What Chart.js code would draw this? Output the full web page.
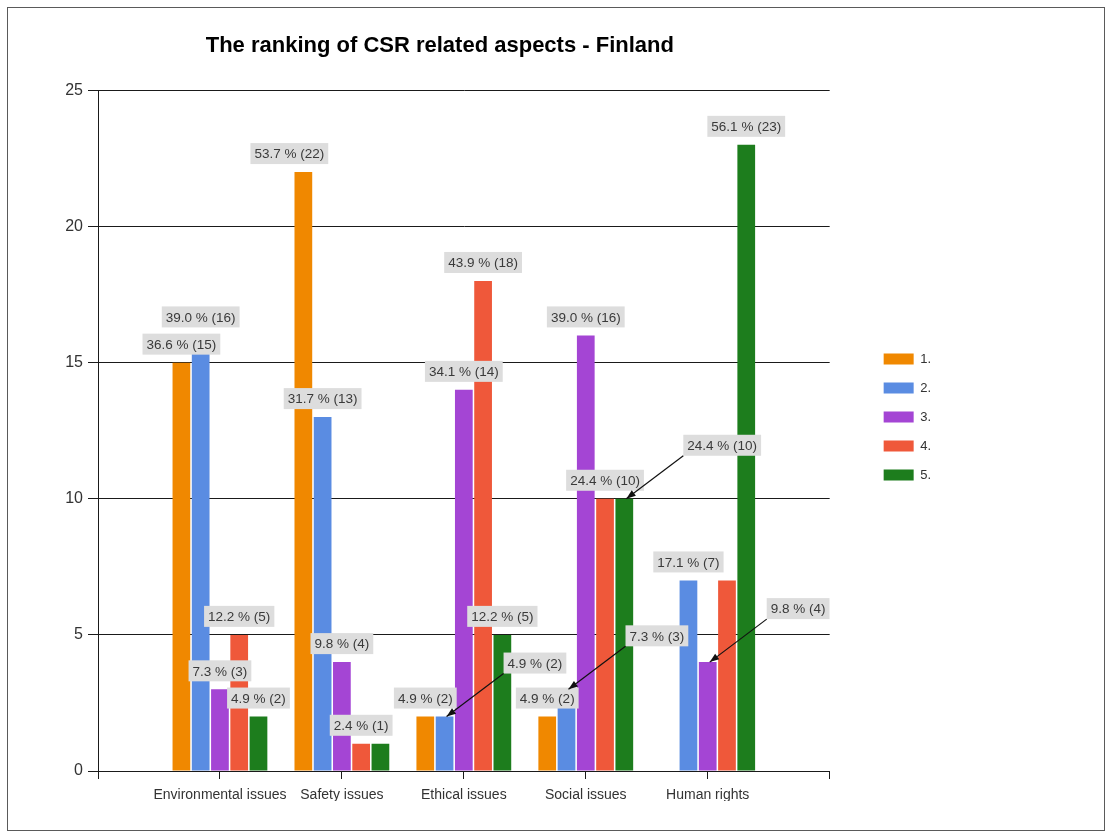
<!DOCTYPE html>
<html>
<head>
<meta charset="utf-8">
<script src="https://cdn.jsdelivr.net/npm/chart.js@4.4.1/dist/chart.umd.min.js"></script>
<style>
  html, body { margin: 0; padding: 0; background: #fff; }
  #wrap { position: relative; width: 1113px; height: 838px; }
  #frame { position: absolute; left: 7px; top: 7px; width: 1096px; height: 822px; border: 1px solid #5a5a5a; pointer-events: none; }
  canvas { position: absolute; left: 0; top: 0; }
</style>
</head>
<body>
<div id="wrap">
  <canvas id="csrChart" width="1113" height="838"></canvas>
  <div id="frame"></div>
</div>
<script>
// values (41 answers per rank)
const categories = ['Environmental issues', 'Safety issues', 'Ethical issues', 'Social issues', 'Human rights'];
const rankNames = ['1.', '2.', '3.', '4.', '5.'];
const rank1 = [15, 22, 2, 2, 0];
const rank2 = [16, 13, 2, 3, 7];
const rank3 = [3, 4, 14, 16, 4];
const rank4 = [5, 1, 18, 10, 7];
const rank5 = [2, 1, 5, 10, 23];
const yTicks = [0, 5, 10, 15, 20, 25];

const series = [rank1, rank2, rank3, rank4, rank5];
const rankColors = ['#f08800', '#5a8ce2', '#a445d4', '#ef583a', '#1d7d1d'];

// labels that the original moved out of the way (series-category)
const arrowLabels = ['1-2', '1-3', '4-3', '2-4'];
const hiddenLabels = ['4-1', '3-4'];
const nudgedLabels = { '0-1': -14 };

const FONT = '"Liberation Sans", Arial, sans-serif';

const valueLabels = {
    id: 'valueLabels',
    afterDatasetsDraw(chart) {
        const ctx = chart.ctx;
        ctx.save();
        ctx.font = '13.5px ' + FONT;
        ctx.textAlign = 'center';
        ctx.textBaseline = 'middle';
        series.forEach((vals, s) => {
            const meta = chart.getDatasetMeta(s);
            const total = vals.reduce((a, b) => a + b, 0);
            vals.forEach((v, c) => {
                const key = s + '-' + c;
                if (!v || hiddenLabels.includes(key)) return;
                const bar = meta.data[c + 1];
                const text = (v / total * 100).toFixed(1) + ' % (' + v + ')';
                const w = ctx.measureText(text).width + 8;
                const h = 21;
                const isArrow = arrowLabels.includes(key);
                let left, bottom;
                if (isArrow) {
                    left = bar.x + 59;
                    bottom = bar.y - 43;
                } else {
                    left = bar.x + (nudgedLabels[key] || 0) - w / 2;
                    bottom = bar.y - 8;
                }
                ctx.fillStyle = 'rgb(221,221,221)';
                ctx.fillRect(left, bottom - h, w, h);
                ctx.fillStyle = '#3a3a3a';
                ctx.fillText(text, left + w / 2, bottom - h / 2 + 1);
                if (isArrow) {
                    const x1 = left, y1 = bottom, x2 = bar.x + 2, y2 = bar.y;
                    const ang = Math.atan2(y2 - y1, x2 - x1);
                    ctx.strokeStyle = '#111';
                    ctx.lineWidth = 1.2;
                    ctx.beginPath();
                    ctx.moveTo(x1, y1);
                    ctx.lineTo(x2, y2);
                    ctx.stroke();
                    ctx.fillStyle = '#111';
                    ctx.beginPath();
                    ctx.moveTo(x2, y2);
                    ctx.lineTo(x2 - 10 * Math.cos(ang - 0.35), y2 - 10 * Math.sin(ang - 0.35));
                    ctx.lineTo(x2 - 10 * Math.cos(ang + 0.35), y2 - 10 * Math.sin(ang + 0.35));
                    ctx.closePath();
                    ctx.fill();
                }
            });
        });
        ctx.restore();
    }
};

// title sits a bit left of the plot centre in the original
const titleShift = {
    id: 'titleShift',
    afterLayout(chart) {
        if (chart.titleBlock) chart.titleBlock.left -= 48;
    }
};

const ctx = document.getElementById('csrChart').getContext('2d');

new Chart(ctx, {
    type: 'bar',
    data: {
        labels: [''].concat(categories, ['']),
        datasets: series.map((vals, i) => ({
            label: rankNames[i],
            data: [null].concat(vals, [null]),
            backgroundColor: rankColors[i],
            borderWidth: 0,
            categoryPercentage: 0.79,
            barPercentage: 0.92
        }))
    },
    options: {
        responsive: false,
        animation: false,
        layout: {
            padding: { left: 58, right: 172, top: 33, bottom: 37 }
        },
        scales: {
            x: {
                offset: false,
                grid: {
                    offset: false,
                    drawOnChartArea: false,
                    drawTicks: true,
                    tickLength: 8,
                    color: '#1a1a1a'
                },
                border: { color: '#1a1a1a', width: 1 },
                ticks: {
                    font: { family: FONT, size: 14 },
                    color: '#333',
                    padding: 8,
                    maxRotation: 0,
                    autoSkip: false
                },
                afterFit: function (scale) { scale.height = 30; }
            },
            y: {
                min: 0,
                max: 25,
                afterBuildTicks: function (scale) {
                    scale.ticks = yTicks.map(v => ({ value: v }));
                },
                grid: {
                    color: '#1a1a1a',
                    lineWidth: 1,
                    tickLength: 10
                },
                border: { color: '#1a1a1a', width: 1 },
                ticks: {
                    font: { family: FONT, size: 16 },
                    color: '#333',
                    padding: 5
                },
                afterFit: function (scale) { scale.width = 40; }
            },
            // empty strip between plot and legend
            gap: {
                type: 'linear',
                position: 'right',
                display: true,
                grid: { display: false },
                border: { display: false },
                ticks: { display: false },
                afterFit: function (scale) { scale.width = 38; }
            }
        },
        plugins: {
            title: {
                display: true,
                text: 'The ranking of CSR related aspects - Finland',
                fullSize: false,
                color: '#000',
                font: { family: FONT, size: 22, weight: 'bold' },
                padding: { top: 0, bottom: 31 }
            },
            legend: {
                display: true,
                position: 'right',
                align: 'center',
                labels: {
                    boxWidth: 30,
                    boxHeight: 11,
                    padding: 16,
                    color: '#333',
                    font: { family: FONT, size: 13 }
                }
            },
            tooltip: { enabled: false }
        }
    },
    plugins: [valueLabels, titleShift]
});
</script>
</body>
</html>
